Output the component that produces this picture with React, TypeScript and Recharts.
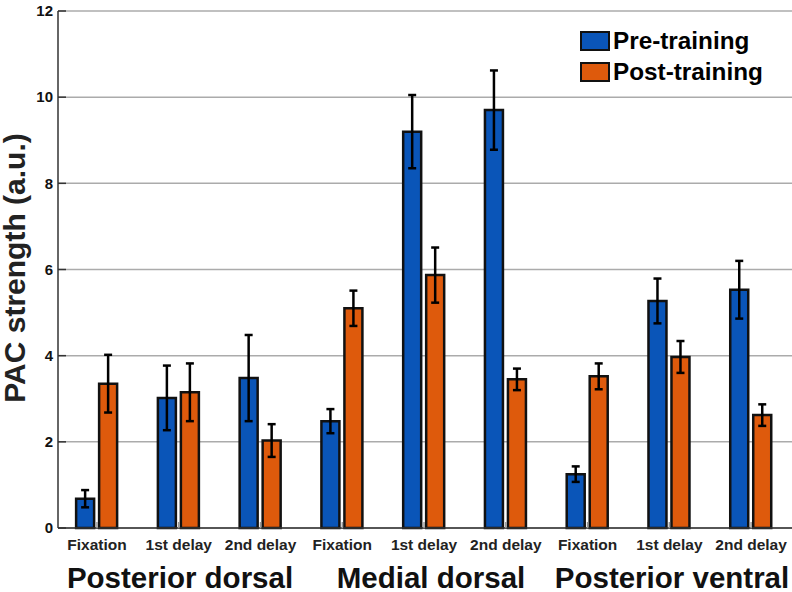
import { Bar, BarChart, CartesianGrid, ErrorBar, XAxis, YAxis } from "recharts";

const FONT = '"Liberation Sans", Arial, sans-serif';

const positions = [1, 2, 3, 4, 5, 6, 7, 8, 9];
const windows = [
	"Fixation",
	"1st delay",
	"2nd delay",
	"Fixation",
	"1st delay",
	"2nd delay",
	"Fixation",
	"1st delay",
	"2nd delay",
];
const preTraining = [0.68, 3.02, 3.48, 2.48, 9.2, 9.7, 1.25, 5.27, 5.53];
const postTraining = [3.35, 3.15, 2.03, 5.1, 5.87, 3.45, 3.52, 3.97, 2.62];
const preError = [0.2, 0.75, 1.0, 0.28, 0.85, 0.92, 0.18, 0.52, 0.67];
const postError = [0.67, 0.67, 0.38, 0.41, 0.64, 0.25, 0.3, 0.37, 0.25];
const yTicks = [0, 2, 4, 6, 8, 10, 12];
const regions = ["Posterior dorsal", "Medial dorsal", "Posterior ventral"];
const regionCenters = [180, 431, 672];

const COLORS = {
	pre: "#0A55B8",
	post: "#DE5A0C",
};

const data = positions.map((x, i) => ({
	x,
	pre: preTraining[i],
	post: postTraining[i],
	preErr: preError[i],
	postErr: postError[i],
}));

function LegendBox() {
	const items = [
		{ label: "Pre-training", color: COLORS.pre },
		{ label: "Post-training", color: COLORS.post },
	];
	return (
		<div
			style={{
				position: "absolute",
				left: 580,
				top: 25,
				fontFamily: FONT,
				fontWeight: 700,
				fontSize: 24.3,
			}}
		>
			{items.map((item) => (
				<div
					key={item.label}
					style={{ display: "flex", alignItems: "center", height: 31 }}
				>
					<div
						style={{
							width: 26,
							height: 16,
							marginRight: 3,
							background: item.color,
							border: "2px solid #111",
						}}
					/>
					<span style={{ color: "#000" }}>{item.label}</span>
				</div>
			))}
		</div>
	);
}

export default function App() {
	return (
		<div style={{ position: "absolute", left: 0, top: 0, width: 792, height: 592, overflow: "hidden" }}>
			<BarChart
				width={792}
				height={592}
				data={data}
				margin={{ top: 11, right: 0, bottom: 0, left: 0 }}
				barSize={18}
				barGap={5}
			>
				<CartesianGrid vertical={false} stroke="#ABABAB" strokeWidth={1.5} />
				<XAxis
					dataKey="x"
					type="number"
					domain={[0.523, 9.5]}
					ticks={positions}
					interval={0}
					allowDataOverflow
					height={64}
					tickFormatter={(v: number) => windows[v - 1]}
					tick={{ fill: "#222", fontSize: 15.5, fontWeight: 700, fontFamily: FONT }}
					tickSize={-6}
					tickMargin={17}
					axisLine={{ stroke: "#333", strokeWidth: 1.5 }}
					tickLine={{ stroke: "#999", strokeWidth: 1.5 }}
				/>
				<YAxis
					width={58}
					domain={[0, 12]}
					ticks={yTicks}
					tick={{ fill: "#111", fontSize: 15, fontWeight: 700, fontFamily: FONT }}
					tickSize={-8}
					tickMargin={13}
					axisLine={{ stroke: "#333", strokeWidth: 1.5 }}
					tickLine={{ stroke: "#333", strokeWidth: 1.5 }}
				/>
				<Bar
					dataKey="pre"
					name="Pre-training"
					fill={COLORS.pre}
					stroke="#111"
					strokeWidth={2.5}
					isAnimationActive={false}
				>
					<ErrorBar dataKey="preErr" width={4} stroke="#000" strokeWidth={2.5} isAnimationActive={false} />
				</Bar>
				<Bar
					dataKey="post"
					name="Post-training"
					fill={COLORS.post}
					stroke="#111"
					strokeWidth={2.5}
					isAnimationActive={false}
				>
					<ErrorBar dataKey="postErr" width={4} stroke="#000" strokeWidth={2.5} isAnimationActive={false} />
				</Bar>
			</BarChart>
			<LegendBox />
			<div
				style={{
					position: "absolute",
					left: 15,
					top: 268,
					lineHeight: "26px",
					transform: "translate(-50%, -50%) rotate(-90deg)",
					whiteSpace: "nowrap",
					fontFamily: FONT,
					fontWeight: 700,
					fontSize: 30,
					color: "#222",
				}}
			>
				PAC strength (a.u.)
			</div>
			{regions.map((region, i) => (
				<div
					key={region}
					style={{
						position: "absolute",
						left: regionCenters[i],
						top: 578,
						lineHeight: "24px",
						transform: "translate(-50%, -50%)",
						whiteSpace: "nowrap",
						fontFamily: FONT,
						fontWeight: 700,
						fontSize: 29.5,
						color: "#111",
					}}
				>
					{region}
				</div>
			))}
		</div>
	);
}
